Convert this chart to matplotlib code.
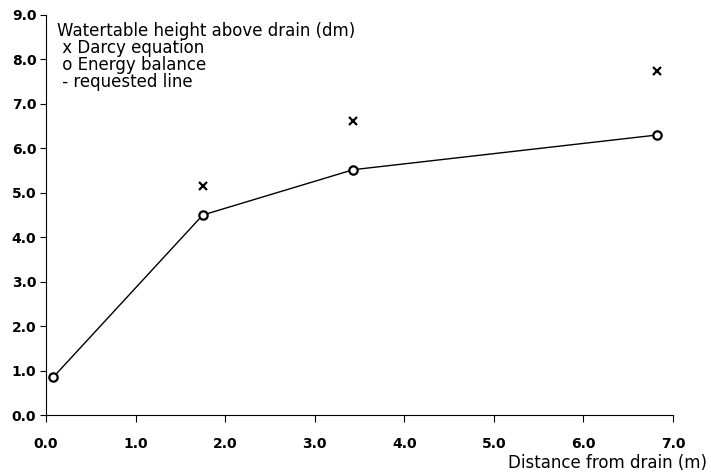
import matplotlib.pyplot as plt

# Energy balance points (o) joined by the requested line
dist_energy = [0.08, 1.75, 3.43, 6.82]
height_energy = [0.85, 4.5, 5.52, 6.3]

# Darcy equation points (x)
dist_darcy = [1.75, 3.43, 6.82]
height_darcy = [5.15, 6.62, 7.74]

x_ticks = [0, 1, 2, 3, 4, 5, 6, 7]
y_ticks = [0, 1, 2, 3, 4, 5, 6, 7, 8, 9]

legend_lines = ["Watertable height above drain (dm)",
                " x Darcy equation",
                " o Energy balance",
                " - requested line"]

fig = plt.figure(figsize=(7.11, 4.76), dpi=100)
ax = fig.add_axes([0.0647, 0.128, 0.8819, 0.8405])

ax.plot(dist_energy, height_energy, color='black', lw=1)
ax.plot(dist_energy, height_energy, ls='none', marker='o', ms=6,
        mfc='white', mec='black', mew=1.6)
ax.plot(dist_darcy, height_darcy, ls='none', marker='x', ms=6,
        color='black', mew=1.6)

ax.set_xlim(0, 7)
ax.set_ylim(0, 9)
ax.set_xticks(x_ticks)
ax.set_yticks(y_ticks)
ax.set_xticklabels([f"{v:.1f}" for v in x_ticks])
ax.set_yticklabels([f"{v:.1f}" for v in y_ticks])
for lab in ax.get_xticklabels() + ax.get_yticklabels():
    lab.set_fontweight('bold')
    lab.set_fontsize(10)

ax.spines['top'].set_visible(False)
ax.spines['right'].set_visible(False)
ax.tick_params(axis='x', direction='out', length=5, pad=11)
ax.tick_params(axis='y', direction='out', length=4, pad=3)

for i, line in enumerate(legend_lines):
    fig.text(57 / 711, 1 - (31 + i * 17) / 476, line, fontsize=12,
             ha='left', va='center')

fig.text(707 / 711, 1 - 463 / 476, "Distance from drain (m)", fontsize=12,
         ha='right', va='center')

plt.savefig('out.png', dpi=100)
